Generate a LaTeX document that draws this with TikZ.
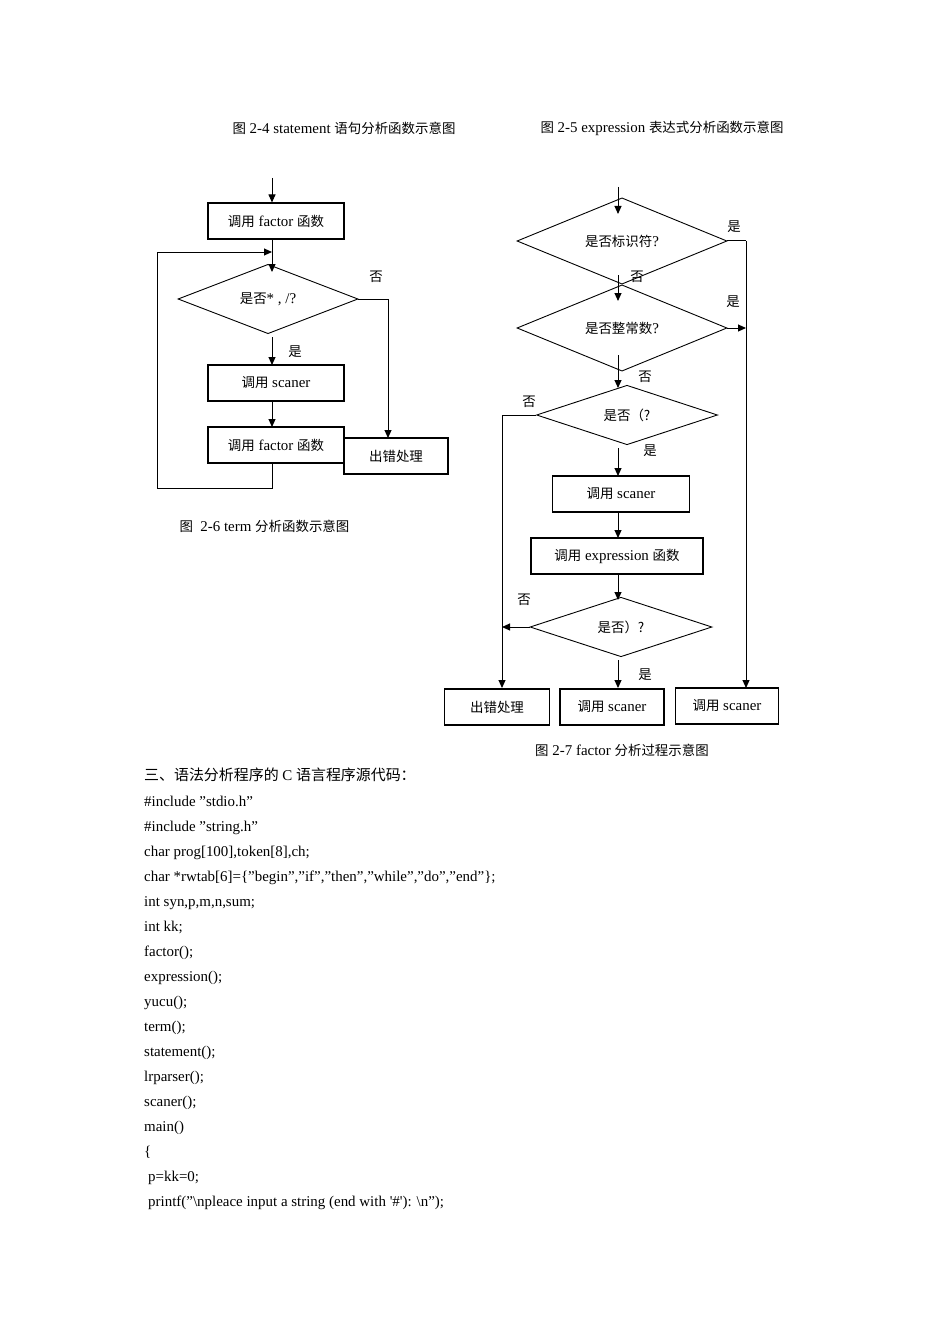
\documentclass[tikz,border=0pt]{standalone}
\usepackage{fontspec}
\setmainfont{Liberation Serif}
\newfontfamily\cjk{Noto Sans CJK SC}
\newcommand\zh[1]{{\cjk\fontsize{13.5}{16}\selectfont #1}}
\usetikzlibrary{shapes.geometric,arrows.meta}
\begin{document}
\begin{tikzpicture}[x=1bp,y=-1bp,
  every node/.style={font=\fontsize{15}{18}\selectfont},
  box/.style={draw,line width=1.1bp,minimum height=36bp,inner sep=0},
  dia/.style={draw,diamond,inner sep=0,line width=0.9bp},
  ar/.style={line width=1bp,-{Triangle[length=8bp,width=7bp]}},
  ln/.style={line width=1bp},
  lab/.style={font=\fontsize{15}{18}\selectfont},
  code/.style={anchor=base west,inner sep=0,font=\fontsize{15}{18}\selectfont}]
\fill[white] (0,0) rectangle (950,1344);
% captions
\node[lab] (c1) at (344,128) {\zh{图} 2-4 statement \zh{语句分析函数示意图}};
\node[lab] (c2) at (662,128) {\zh{图} 2-5 expression \zh{表达式分析函数示意图}};
\node[lab,anchor=west] (c3) at (176,526) {\zh{图}\ \ 2-6 term \zh{分析函数示意图}};
\node[lab] (c4) at (622,750) {\zh{图} 2-7 factor \zh{分析过程示意图}};
% ---- left diagram
\coordinate (l0) at (272,178);
\node[box,minimum width=136bp] (lb1) at (276,221) {\zh{调用} factor \zh{函数}};
\node[dia,minimum width=180bp,minimum height=54bp] (ld) at (268,299) {\zh{是否}* , /?};
\node[box,minimum width=136bp] (lb2) at (276,383) {\zh{调用} scaner};
\node[box,minimum width=136bp] (lb3) at (276,445) {\zh{调用} factor \zh{函数}};
\node[box,minimum width=104bp] (le) at (396,456) {\zh{出错处理}};
\draw[ar] (l0) -- (l0 |- lb1.north);
\draw[ar] (272,239) -- (272,272);
\coordinate (lj) at (272,252);
\draw[ar] (157,252) -- (lj);
\draw[ln] (ld.east) -- (388,299);
\draw[ar] (388,299) -- (388,438);
\node[lab] (ln1) at (376,277) {\zh{否}};
\draw[ar] (272,337) -- (272,365);
\node[lab] (ly1) at (295,352) {\zh{是}};
\draw[ar] (272,401) -- (272,427);
\draw[ln] (272,463) -- (272,488) -- (157,488) -- (157,252);
% ---- right diagram
\node[dia,minimum width=210bp,minimum height=54bp] (d1) at (622,241) {\zh{是否标识符}?};
\node[dia,minimum width=210bp,minimum height=54bp] (d2) at (622,328) {\zh{是否整常数}?};
\node[dia,minimum width=181bp,minimum height=54bp] (d3) at (627,415) {\zh{是否（?}};
\node[box,minimum width=137bp] (rb1) at (621,494) {\zh{调用} scaner};
\node[box,minimum width=172bp] (rb2) at (617,556) {\zh{调用} expression \zh{函数}};
\node[dia,minimum width=182bp,minimum height=55bp] (d4) at (621,627) {\zh{是否）?}};
\node[box,minimum width=105bp] (re) at (497,707) {\zh{出错处理}};
\node[box,minimum width=104bp,line width=1.5bp] (rb3) at (612,707) {\zh{调用} scaner};
\node[box,minimum width=103bp] (rb4) at (727,706) {\zh{调用} scaner};
\coordinate (r0) at (618,187);
\draw[ar] (r0) -- (618,214);
\draw[ln] (d1.east) -- (746,241);
\draw[ar] (746,241) -- (746,688);
\node[lab] at (734,227) {\zh{是}};
\draw[ar] (618,275) -- (618,301);
\node[lab] at (637,277) {\zh{否}};
\draw[ar] (d2.east) -- (746,328);
\node[lab] at (733,302) {\zh{是}};
\draw[ar] (618,355) -- (618,388);
\node[lab] at (645,377) {\zh{否}};
\draw[ln] (d3.west) -- (502,415);
\draw[ar] (502,415) -- (502,688);
\node[lab] at (529,402) {\zh{否}};
\draw[ar] (618,448) -- (618,476);
\node[lab] at (650,451) {\zh{是}};
\draw[ar] (618,512) -- (618,538);
\draw[ar] (618,574) -- (618,600);
\draw[ar] (d4.west) -- (502,627);
\node[lab] at (524,600) {\zh{否}};
\draw[ar] (618,660) -- (618,688);
\node[lab] at (645,675) {\zh{是}};
% ---- code
\node[code] (h) at (144,780) {{\cjk\fontsize{15}{18}\selectfont 三、语法分析程序的} C {\cjk\fontsize{15}{18}\selectfont 语言程序源代码：}};
\node[code] at (144,806) {\#include "stdio.h"};
\node[code] at (144,831) {\#include "string.h"};
\node[code] at (144,856) {char prog[100],token[8],ch;};
\node[code] at (144,881) {char *rwtab[6]=\{"begin","if","then","while","do","end"\};};
\node[code] at (144,906) {int syn,p,m,n,sum;};
\node[code] at (144,931) {int kk;};
\node[code] at (144,956) {factor();};
\node[code] at (144,981) {expression();};
\node[code] at (144,1006) {yucu();};
\node[code] at (144,1031) {term();};
\node[code] at (144,1056) {statement();};
\node[code] at (144,1081) {lrparser();};
\node[code] at (144,1106) {scaner();};
\node[code] at (144,1131) {main()};
\node[code] at (144,1156) {\{};
\node[code] at (148,1181) {p=kk=0;};
\node[code] at (148,1206) {printf("\textbackslash npleace input a string (end with \textquotesingle\#\textquotesingle): \textbackslash n");};
\end{tikzpicture}
\end{document}
